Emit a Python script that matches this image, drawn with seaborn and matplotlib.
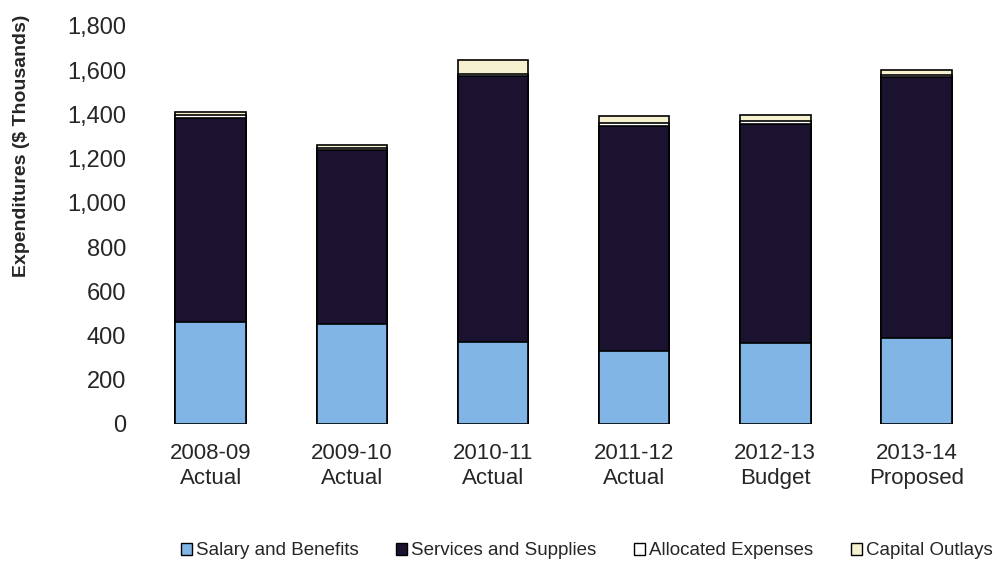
import matplotlib
matplotlib.use("Agg")
import matplotlib.pyplot as plt
import seaborn as sns
import numpy as np
import pandas as pd
from matplotlib.patches import Patch
from matplotlib.ticker import FuncFormatter

categories = ["2008-09\nActual", "2009-10\nActual", "2010-11\nActual",
              "2011-12\nActual", "2012-13\nBudget", "2013-14\nProposed"]
salary = [461, 452, 371, 330, 366, 389]
services = [923, 787, 1203, 1018, 991, 1180]
allocated = [12, 10, 10, 15, 12, 10]
capital = [15, 13, 62, 30, 29, 22]

series_names = ["Salary and Benefits", "Services and Supplies", "Allocated Expenses", "Capital Outlays"]
colors = ["#80b5e6", "#1b1230", "#ffffff", "#f6f1cf"]

sns.set_theme(style="white")
plt.rcParams['font.family'] = ['Liberation Sans', 'DejaVu Sans']

fig = plt.figure(figsize=(10.01, 5.65), dpi=100)
ax = fig.add_axes([0.14, 0.2496, 0.846, 0.7044])

layers = [salary, services, allocated, capital]
cum = np.cumsum(np.array(layers), axis=0)

for i in range(len(layers) - 1, -1, -1):
    df = pd.DataFrame({"cat": categories, "val": cum[i]})
    sns.barplot(data=df, x="cat", y="val", color=colors[i], width=0.5,
                edgecolor="black", linewidth=1.2, saturation=1, ax=ax)

ax.set_ylim(0, 1800)
ax.set_yticks(np.arange(0, 1801, 200))
ax.yaxis.set_major_formatter(FuncFormatter(lambda v, p: f"{int(v):,}"))
ax.set_xlabel("")
ax.set_ylabel("Expenditures ($ Thousands)", fontsize=14, fontweight="bold")
ax.yaxis.set_label_coords(-0.13, 0.70)
ax.tick_params(axis="y", labelsize=17, length=0, pad=10)
ax.tick_params(axis="x", labelsize=16, length=0, pad=14)
for lbl in ax.get_xticklabels():
    lbl.set_linespacing(1.2)
for s in ax.spines.values():
    s.set_visible(False)
ax.grid(False)

handles = [Patch(facecolor=c, edgecolor="black", linewidth=1.0) for c in colors]
fig.legend(handles, series_names, loc="center", bbox_to_anchor=(0.586, 0.025),
           ncol=4, frameon=False, fontsize=13.5,
           handlelength=0.6, handleheight=0.6,
           handletextpad=0.2, columnspacing=2.0)

fig.savefig("out.png", dpi=100)
